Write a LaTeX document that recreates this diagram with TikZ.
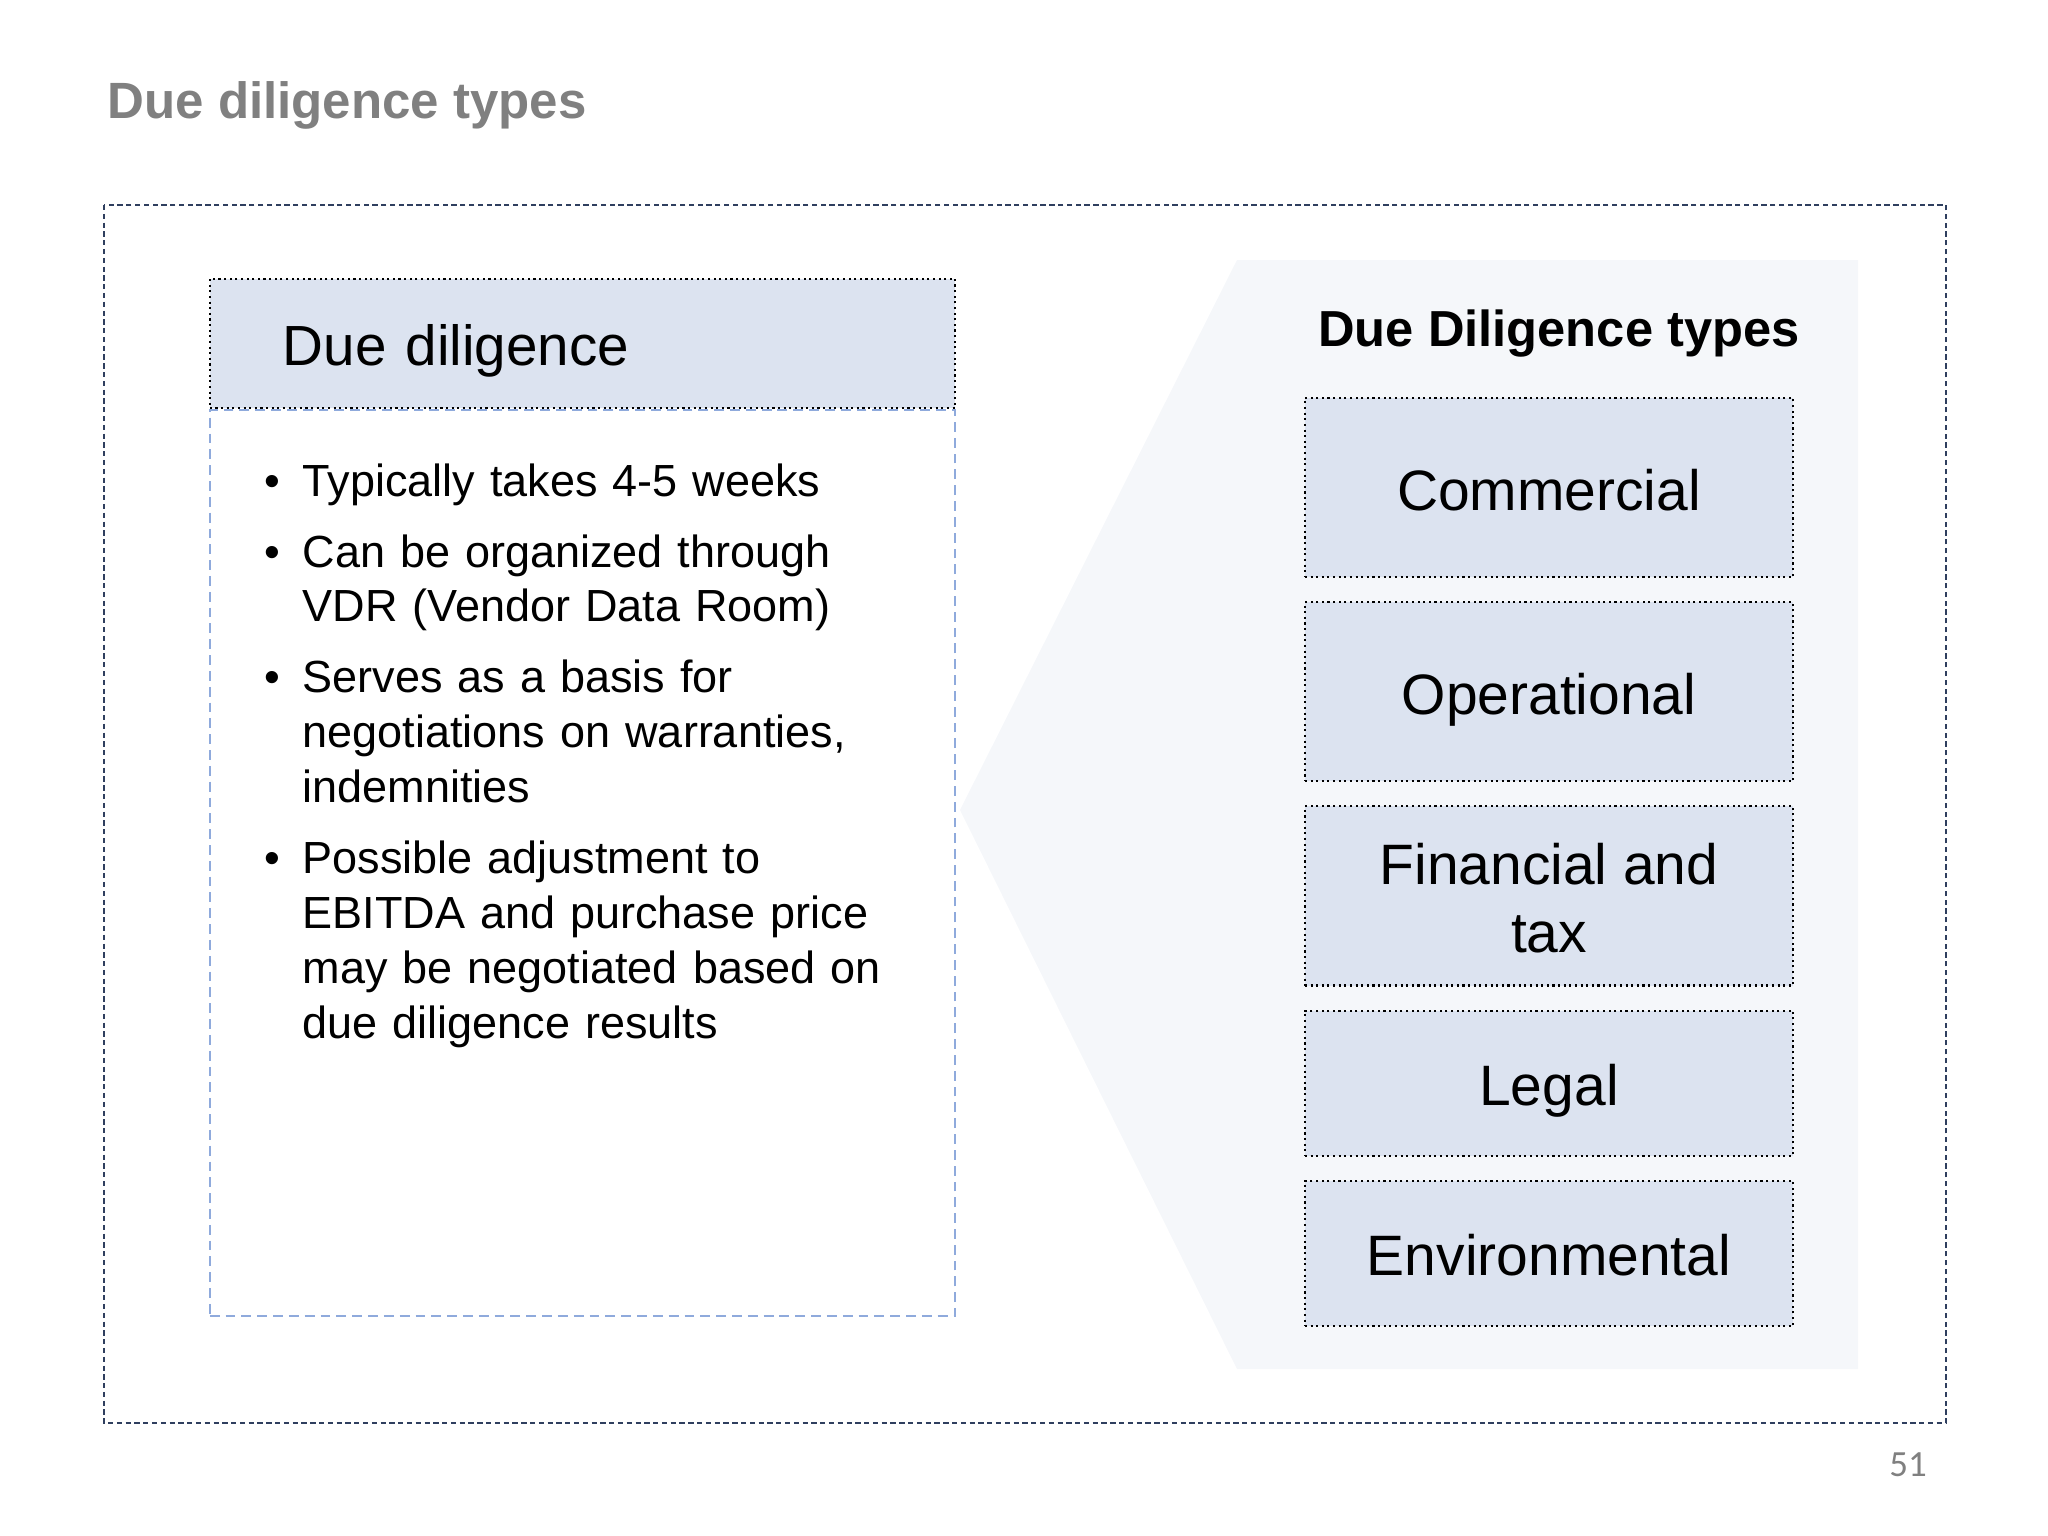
\documentclass[tikz,border=0pt]{standalone}
\usepackage{fontspec}
\setmainfont{Liberation Sans}
\newfontfamily\pagefont{Carlito}
\usetikzlibrary{positioning}

\definecolor{boxblue}{HTML}{DCE3F0}
\definecolor{lineblue}{HTML}{8FAADC}
\definecolor{framenavy}{HTML}{2F3F5F}
\definecolor{titlegrey}{HTML}{808080}
\definecolor{shadebg}{HTML}{F5F7FA}

\newcommand{\ddbul}{\leavevmode\llap{\textbullet\hspace{0.22cm}}}

\begin{document}
\begin{tikzpicture}[x=0.01cm,y=-0.01cm,
    frame/.style={draw=framenavy,line width=0.5pt,dash pattern=on 1.5pt off 1pt},
    headbox/.style={draw=black,densely dotted,line width=0.6pt,fill=boxblue},
    bodybox/.style={draw=lineblue,line width=0.6pt,dash pattern=on 2.8pt off 1.7pt,fill=white},
    typebox/.style={headbox,minimum width=4.88cm,text height=0.45cm,text depth=0cm,
        font=\fontsize{16.2pt}{19.3pt}\selectfont},
    node distance=0.23cm
]

\useasboundingbox (0,0) rectangle (2048,1536);

% Titre
\node[anchor=base west,inner sep=0pt,text=titlegrey,
    font=\bfseries\fontsize{14.5pt}{17pt}\selectfont] (title) at (107,118) {Due diligence types};

% Cadre
\draw[frame] (104,205) rectangle (1946,1423);

% Fond des types
\fill[shadebg]
    (960,810) -- (1237,260) -- (1858,260) -- (1858,1369) -- (1237,1369) -- cycle;

% Due diligence
\node[bodybox,minimum width=7.45cm,minimum height=9.06cm] (ddbody) at (582.5,863) {};
\node[headbox,minimum width=7.45cm,minimum height=1.29cm,text width=5.99cm,
    inner xsep=0.73cm,align=left,text height=0.45cm,text depth=0cm,
    font=\fontsize{16.1pt}{19pt}\selectfont,above=0cm of ddbody] (ddhead) {Due diligence};

\node[text width=6.6cm,inner sep=0pt,align=left,anchor=base west,
    font=\fontsize{12.8pt}{15.6pt}\selectfont] (ddlist) at (245,496) {%
    \parindent=0pt\leftskip=0.57cm
    \ddbul Typically takes 4-5 weeks\par\vspace{4.6pt}
    \ddbul Can be organized through\\VDR (Vendor Data Room)\par\vspace{4.6pt}
    \ddbul Serves as a basis for\\negotiations on warranties,\\indemnities\par\vspace{4.6pt}
    \ddbul Possible adjustment to\\EBITDA and purchase price\\may be negotiated based on\\due diligence results\par};

% Types
\node[anchor=base,font=\bfseries\fontsize{14.4pt}{17pt}\selectfont] (typeshead) at (1559,346) {Due Diligence types};

\node[typebox,minimum height=1.79cm] (comm) at (1549,487.5) {Commercial};
\node[typebox,minimum height=1.79cm,below=of comm] (oper) {Operational};
\node[typebox,minimum height=1.79cm,text height=1.13cm,align=center,below=of oper] (fin) {Financial and\\tax};
\node[typebox,minimum height=1.45cm,below=of fin] (legal) {Legal};
\node[typebox,minimum height=1.45cm,below=of legal] (env) {Environmental};

% Page
\node[text=titlegrey,font=\pagefont\fontsize{10.5pt}{12pt}\selectfont] (pagenum) at (1908,1465) {51};

\end{tikzpicture}
\end{document}
